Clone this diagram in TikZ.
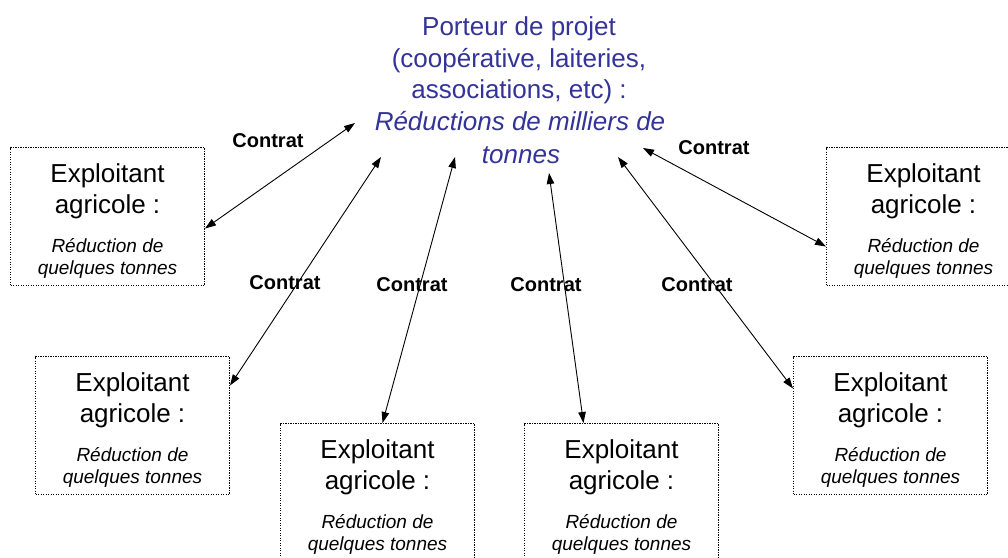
\documentclass[tikz,border=0pt]{standalone}
\usepackage{fontspec}
\setmainfont{Liberation Sans}
\usetikzlibrary{arrows.meta,calc}
\definecolor{titleblue}{RGB}{51,51,153}
\begin{document}
\begin{tikzpicture}[x=1pt,y=-1pt,
  farm/.style={draw, dash pattern=on 1.2pt off 1.3pt, line width=1pt, minimum width=194pt, minimum height=138pt, anchor=north west, inner sep=0pt},
  big/.style={font=\fontsize{26}{32}\selectfont, anchor=base, inner sep=0pt},
  small/.style={font=\fontsize{19}{23}\selectfont\itshape, anchor=base, inner sep=0pt},
  lbl/.style={font=\fontsize{20}{24}\selectfont\bfseries, anchor=base, inner sep=0pt},
  link/.style={{Triangle[length=11pt,width=7.5pt]}-{Triangle[length=11pt,width=7.5pt]}, line width=0.9pt}
]
\useasboundingbox[fill=white] (0,0) rectangle (1008,557);
% title
\node[big, text=titleblue] (t1) at (519,35) {Porteur de projet};
\node[big, text=titleblue] (t2) at (519,67) {(coopérative, laiteries,};
\node[big, text=titleblue] (t3) at (519,98) {associations, etc) :};
\node[big, text=titleblue, font=\fontsize{26}{32}\selectfont\itshape] (t4) at (520,130) {Réductions de milliers de};
\node[big, text=titleblue, font=\fontsize{26}{32}\selectfont\itshape] (t5) at (521,163) {tonnes};
% boxes
\foreach \n/\x/\y in {b1/10/147, b2/826/147, b3/35/356, b4/793/356, b5/280/423, b6/524/423} {
  \node[farm] (\n) at (\x,\y) {};
  \node[big] (\n-a) at ($(\n.north)+(0,35)$) {Exploitant};
  \node[big] (\n-b) at ($(\n.north)+(0,66)$) {agricole :};
  \node[small] (\n-c) at ($(\n.north)+(0,105)$) {Réduction de};
  \node[small] (\n-d) at ($(\n.north)+(0,127)$) {quelques tonnes};
}
% arrow ends near the title
\coordinate (p1) at (355,123);
\coordinate (p2) at (381,157);
\coordinate (p3) at (455,157);
\coordinate (p4) at (549,173);
\coordinate (p5) at (618,157);
\coordinate (p6) at (643,148);
\draw[link] ([yshift=-12pt]b1.east) -- (p1);
\draw[link] ([yshift=40pt]b3.east) -- (p2);
\draw[link] ([xshift=5pt]b5.north) -- (p3);
\draw[link] ([xshift=-38pt]b6.north) -- (p4);
\draw[link] ([yshift=37pt]b4.west) -- (p5);
\draw[link] ([yshift=-30pt]b2.west) -- (p6);
% labels
\node[lbl] (c1) at (268,147) {Contrat};
\node[lbl] (c2) at (285,289) {Contrat};
\node[lbl] (c3) at (412,291) {Contrat};
\node[lbl] (c4) at (546,291) {Contrat};
\node[lbl] (c5) at (697,291) {Contrat};
\node[lbl] (c6) at (714,154) {Contrat};
\end{tikzpicture}
\end{document}
